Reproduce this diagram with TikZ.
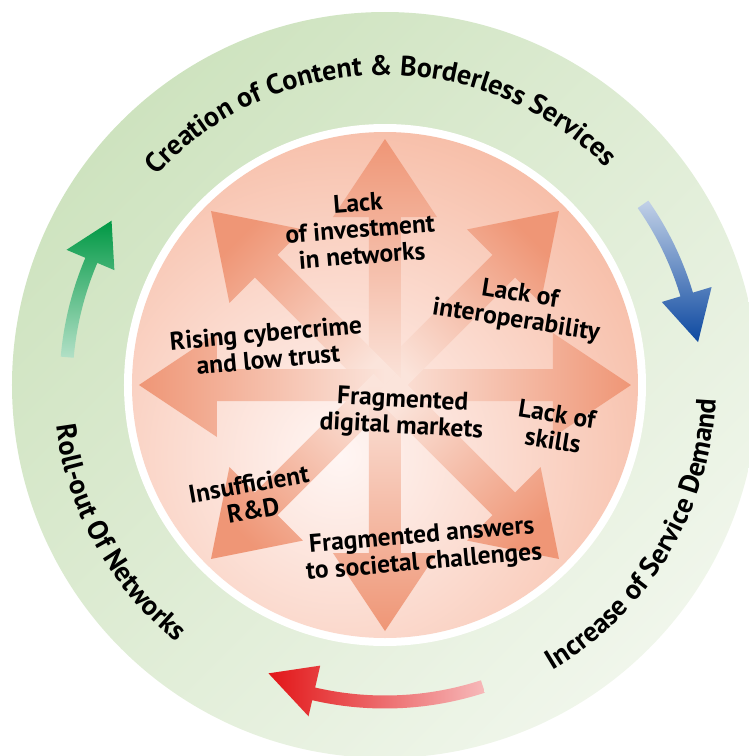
\documentclass[tikz,border=0pt]{standalone}
\usepackage{fontspec}
\setmainfont{PT Sans}
\usetikzlibrary{positioning,decorations.text}
\definecolor{ringgreen}{RGB}{206,227,191}
\definecolor{ringpale}{RGB}{240,246,235}
\definecolor{discedge}{RGB}{247,190,168}
\definecolor{disccentre}{RGB}{255,246,244}
\definecolor{rayhead}{RGB}{239,150,118}
\definecolor{raytail}{RGB}{251,228,219}
\definecolor{cycgreen}{RGB}{0,152,68}
\definecolor{cycblue}{RGB}{12,72,160}
\definecolor{cycred}{RGB}{226,22,24}

\begin{document}
\begin{tikzpicture}[x=1pt,y=1pt]

	\tikzset{causetext/.style={
			font=\fontsize{25.5}{26.5}\selectfont\bfseries,
			align=center,
			inner sep=0pt
		},
		ringtext/.style={
			decorate,
			decoration={text along path, text align=center,
				text={|\fontsize{28}{28}\selectfont\bfseries|#1}}
		},
		ray/.style={
			top color=rayhead, bottom color=raytail
		}
	}

	\useasboundingbox (-385,-371) rectangle (364,385);

	% rings
	\shade[top color=ringgreen, bottom color=ringpale, shading angle=45] (0,0) circle (373);
	\fill[white] (0,0) circle (261);
	\begin{scope}
		\clip (0,0) circle (253);
		\shade[inner color=disccentre, outer color=discedge] (-45,-70) circle (340);
	\end{scope}

	% eight rays
	\foreach \a [evaluate=\a as \sa using \a-90] in {0,45,...,315}
		\shade[ray, rotate=\a, shading angle=\sa]
			(0,-16) -- (168,-16) -- (168,-52) -- (246,0) -- (168,52) -- (168,16) -- (0,16) -- cycle;

	% causes
	\node[causetext, rotate=4.5] (invest) at (-25,156) {Lack\\of investment\\in networks};
	\node[causetext, rotate=-9] (interop) at (133,77) {Lack of\\interoperability};
	\node[causetext, rotate=5] (cyber) at (-118,39) {Rising cybercrime\\and low trust};
	\node[causetext, rotate=-3] (markets) at (17,-29) {Fragmented\\digital markets};
	\node[causetext, rotate=-9] (skills) at (170,-42) {Lack of\\skills};
	\node[causetext, rotate=10] (rnd) at (-134,-112) {Insufficient\\R\&D};
	\node[causetext, rotate=5] (answers) at (38,-165) {Fragmented answers\\to societal challenges};

	% cycle texts
	\path[ringtext={Creation of Content {\&} Borderless Services}]
		(139:310) arc[start angle=139, end angle=43, radius=310];
	\path[ringtext={Increase of Service Demand}]
		(-64:331) arc[start angle=-64, end angle=2, radius=331];
	\path[ringtext={Roll-out Of Networks}]
		(184:331) arc[start angle=184, end angle=234, radius=331];

	% cycle arrows
	\shade[top color=cycblue!25!white, bottom color=cycblue]
		(35:308.5) arc[start angle=35, end angle=16.7, radius=308.5]
		-- (16.7:289) -- (7.8:316) -- (16.7:341) -- (16.7:321.5)
		arc[start angle=16.7, end angle=35, radius=321.5] -- cycle;
	\shade[left color=cycred, right color=cycred!30!white]
		(-72:323.5) arc[start angle=-72, end angle=-103, radius=323.5]
		-- (-103:340) -- (-112:311) -- (-103:288) -- (-103:310.5)
		arc[start angle=-103, end angle=-72, radius=310.5] -- cycle;
	\shade[top color=cycgreen, bottom color=cycgreen!30!white]
		(175:312.5) arc[start angle=175, end angle=157, radius=312.5]
		-- (157:294) -- (149:319) -- (157:346) -- (157:325.5)
		arc[start angle=157, end angle=175, radius=325.5] -- cycle;

\end{tikzpicture}
\end{document}
